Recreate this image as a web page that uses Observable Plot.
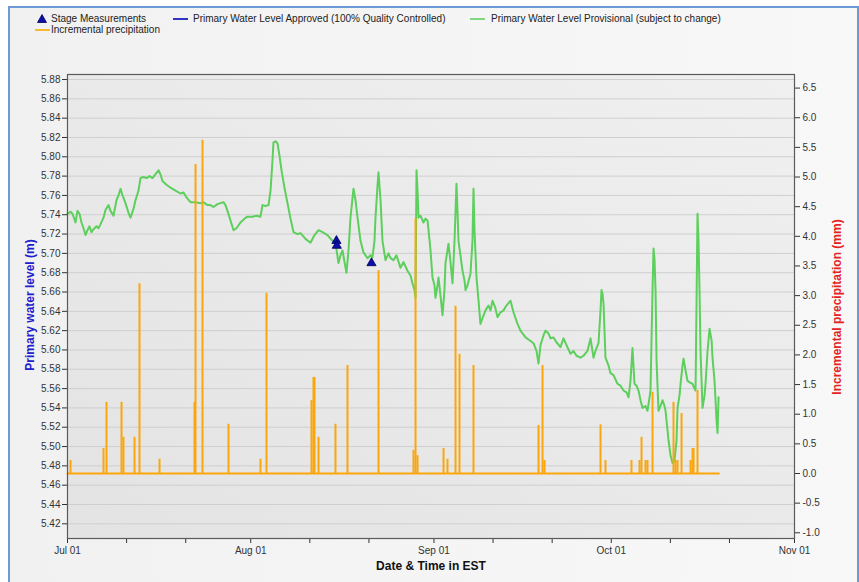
<!DOCTYPE html>
<html><head><meta charset="utf-8">
<script src="https://cdn.jsdelivr.net/npm/d3@7"></script>
<script src="https://cdn.jsdelivr.net/npm/@observablehq/plot@0.6"></script>
<style>
body{margin:0;background:#fff;font-family:"Liberation Sans",Arial,sans-serif;}
#wrap{position:relative;width:859px;height:582px;overflow:hidden;background:#fff;}
#frame{position:absolute;left:8px;top:6px;width:847px;height:600px;border:2px solid #6d9ad6;background:linear-gradient(90deg,#f1f1f1,#f8f8f8);}
.leg{position:absolute;font-size:10px;line-height:12px;color:#222;white-space:nowrap;}
.sw{position:absolute;height:2px;width:15px;}
#chart{position:absolute;left:0;top:0;}
.title{position:absolute;font-weight:bold;font-size:12px;white-space:nowrap;transform:translate(-50%,-50%);}
.rot{transform:translate(-50%,-50%) rotate(-90deg);}
</style></head>
<body>
<div id="wrap">
  <div id="frame"></div>
  <svg style="position:absolute;left:37px;top:14px" width="10" height="9"><path d="M5,0.5 L9.5,8.5 L0.5,8.5 Z" fill="#0d0da8" stroke="#00005a" stroke-width="0.8"/></svg>
  <div class="leg" style="left:51px;top:13px">Stage Measurements</div>
  <div class="sw" style="left:173px;top:18px;background:#3434c4"></div>
  <div class="leg" style="left:193px;top:13px">Primary Water Level Approved (100% Quality Controlled)</div>
  <div class="sw" style="left:470px;top:18px;background:#7fd87f"></div>
  <div class="leg" style="left:491px;top:13px">Primary Water Level Provisional (subject to change)</div>
  <div class="sw" style="left:35px;top:29px;background:#f5b82e"></div>
  <div class="leg" style="left:51px;top:24px">Incremental precipitation</div>
  <div id="chart"></div>
  <div class="title rot" style="left:30px;top:305px;color:#2020cc">Primary water level (m)</div>
  <div class="title rot" style="left:837px;top:307px;color:#e52222">Incremental precipitation (mm)</div>
  <div class="title" style="left:431px;top:566px;color:#111">Date &amp; Time in EST</div>
</div>
<script>
// Water level (provisional): [days after Jul 01 00:00, level in m]
const waterLevel = [[0.00,5.741],[0.51,5.743],[0.85,5.741],[1.35,5.732],[1.69,5.744],[2.03,5.741],[2.37,5.732],[2.71,5.726],[3.05,5.719],[3.38,5.724],[3.72,5.728],[4.06,5.722],[4.40,5.725],[4.91,5.728],[5.24,5.726],[5.58,5.730],[6.09,5.737],[6.43,5.745],[6.94,5.750],[7.28,5.744],[7.78,5.739],[8.29,5.755],[8.63,5.760],[8.97,5.767],[9.31,5.760],[9.81,5.752],[10.32,5.742],[10.66,5.737],[11.17,5.746],[11.50,5.755],[12.01,5.765],[12.35,5.778],[12.86,5.779],[13.37,5.778],[13.87,5.780],[14.38,5.778],[14.89,5.782],[15.40,5.786],[15.73,5.782],[16.07,5.775],[16.75,5.771],[17.43,5.768],[18.27,5.765],[19.12,5.762],[19.63,5.763],[20.13,5.758],[20.81,5.753],[21.66,5.753],[22.50,5.752],[23.01,5.753],[23.69,5.750],[24.19,5.750],[24.70,5.748],[25.38,5.751],[25.89,5.752],[26.39,5.753],[26.73,5.750],[27.07,5.744],[27.58,5.734],[28.09,5.724],[28.59,5.726],[29.27,5.732],[29.95,5.736],[30.45,5.738],[31.30,5.738],[31.98,5.739],[32.65,5.738],[32.99,5.750],[33.50,5.749],[34.01,5.750],[34.35,5.765],[34.68,5.796],[34.85,5.815],[35.19,5.816],[35.53,5.814],[35.87,5.801],[36.21,5.786],[36.71,5.768],[37.22,5.752],[37.73,5.736],[38.24,5.722],[38.91,5.720],[39.42,5.721],[40.27,5.715],[41.11,5.711],[41.79,5.719],[42.47,5.724],[43.14,5.722],[43.99,5.719],[44.67,5.714],[45.34,5.711],[45.85,5.690],[46.19,5.698],[46.53,5.703],[46.87,5.691],[47.20,5.680],[47.54,5.703],[47.88,5.737],[48.39,5.767],[48.73,5.755],[49.07,5.737],[49.57,5.713],[50.08,5.701],[50.76,5.695],[51.26,5.698],[51.60,5.696],[51.94,5.713],[52.11,5.737],[52.45,5.770],[52.62,5.784],[52.96,5.755],[53.29,5.713],[53.80,5.693],[54.31,5.700],[54.65,5.695],[55.16,5.693],[55.66,5.698],[56.34,5.685],[56.85,5.691],[57.52,5.682],[58.03,5.677],[58.37,5.669],[58.71,5.662],[58.88,5.654],[59.05,5.786],[59.22,5.765],[59.39,5.737],[59.72,5.739],[60.23,5.732],[60.57,5.736],[60.91,5.734],[61.08,5.724],[61.42,5.703],[61.75,5.675],[62.09,5.667],[62.26,5.654],[62.60,5.667],[62.77,5.675],[63.11,5.656],[63.45,5.636],[63.78,5.662],[63.95,5.690],[64.29,5.703],[64.46,5.710],[64.80,5.691],[65.14,5.669],[65.48,5.713],[65.81,5.772],[65.98,5.744],[66.15,5.713],[66.49,5.698],[66.83,5.682],[67.17,5.672],[67.34,5.662],[67.68,5.667],[68.18,5.679],[68.52,5.713],[68.69,5.767],[68.86,5.724],[69.20,5.675],[69.54,5.651],[69.87,5.627],[70.21,5.633],[70.72,5.641],[71.23,5.646],[71.57,5.641],[71.91,5.651],[72.41,5.643],[72.75,5.634],[73.26,5.639],[73.77,5.641],[74.27,5.646],[74.95,5.651],[75.46,5.639],[76.14,5.627],[76.64,5.620],[77.49,5.613],[78.17,5.610],[78.84,5.607],[79.35,5.599],[79.69,5.586],[80.03,5.605],[80.53,5.615],[80.87,5.620],[81.38,5.617],[81.72,5.612],[82.23,5.613],[82.73,5.608],[83.41,5.603],[83.92,5.612],[84.43,5.605],[85.10,5.596],[85.61,5.599],[86.12,5.594],[86.79,5.592],[87.30,5.594],[87.98,5.599],[88.49,5.612],[88.99,5.592],[89.33,5.599],[89.84,5.607],[90.18,5.641],[90.35,5.662],[90.52,5.658],[90.69,5.648],[91.02,5.592],[91.53,5.584],[91.87,5.576],[92.38,5.574],[93.05,5.565],[93.56,5.563],[94.07,5.558],[94.58,5.556],[94.92,5.551],[95.25,5.568],[95.59,5.602],[95.93,5.565],[96.27,5.563],[96.61,5.558],[96.95,5.548],[97.28,5.540],[97.79,5.542],[98.13,5.537],[98.64,5.558],[98.81,5.610],[98.98,5.662],[99.15,5.705],[99.32,5.693],[99.49,5.662],[99.66,5.589],[99.99,5.537],[100.33,5.542],[100.67,5.548],[101.01,5.542],[101.18,5.537],[101.52,5.517],[101.69,5.506],[102.03,5.491],[102.36,5.483],[102.70,5.486],[103.04,5.506],[103.21,5.540],[103.55,5.553],[103.72,5.565],[104.06,5.584],[104.23,5.591],[104.56,5.579],[104.90,5.568],[105.41,5.566],[105.75,5.565],[106.09,5.560],[106.26,5.558],[106.43,5.651],[106.59,5.741],[106.76,5.713],[106.93,5.662],[107.10,5.599],[107.44,5.540],[107.78,5.553],[107.95,5.565],[108.29,5.599],[108.63,5.622],[108.97,5.610],[109.13,5.592],[109.47,5.568],[109.64,5.548],[109.81,5.527],[109.98,5.514],[110.15,5.551]];

// Incremental precipitation spikes: [days after Jul 01, mm]
const precipitation = [[0.51,0.22],[6.09,0.42],[6.60,1.20],[9.14,1.20],[9.47,0.61],[11.34,0.61],[12.18,3.20],[15.57,0.24],[21.49,1.20],[21.66,5.21],[22.84,5.62],[27.24,0.83],[32.65,0.24],[33.67,3.04],[41.28,1.23],[41.62,1.62],[41.79,1.62],[42.47,0.61],[45.34,0.83],[47.37,1.82],[52.62,3.42],[58.54,0.39],[58.88,4.30],[59.22,0.30],[63.62,0.42],[64.29,0.24],[65.65,2.82],[66.32,2.01],[68.69,1.82],[79.69,0.81],[80.37,1.82],[80.71,0.22],[90.18,0.82],[91.02,0.22],[95.42,0.22],[96.78,0.22],[97.12,0.61],[97.79,0.22],[98.13,0.22],[98.98,1.37],[102.53,1.20],[102.87,0.22],[103.21,0.22],[103.89,1.01],[105.41,0.22],[105.75,0.42],[105.92,0.42],[106.59,1.40]];
// precipitation record start/end (days after Jul 01), value 0 between spikes
const precipRecord = [0, 110.2];

// Stage measurements: [days after Jul 01, level m]
const stageMeasurements = [[45.50,5.713],[45.56,5.708],[51.43,5.690]];

// Axis ticks
const levelTicks = [5.42,5.44,5.46,5.48,5.50,5.52,5.54,5.56,5.58,5.60,5.62,5.64,5.66,5.68,5.70,5.72,5.74,5.76,5.78,5.80,5.82,5.84,5.86,5.88];
const precipTicks = [-1.0,-0.5,0.0,0.5,1.0,1.5,2.0,2.5,3.0,3.5,4.0,4.5,5.0,5.5,6.0,6.5];
const xTicks = ["2023-07-01","2023-07-11","2023-07-21","2023-08-01","2023-08-11","2023-08-21","2023-09-01","2023-09-11","2023-09-21","2023-10-01","2023-10-11","2023-10-21","2023-11-01"];
const levelDomain = [5.4048, 5.8852];

const base = Date.UTC(2023, 6, 1);
const toDate = d => new Date(base + d * 864e5);
// secondary axis mapping: precipitation (mm) -> level-scale value
const P0 = 5.4721, PK = 0.06139;
const toLevel = p => P0 + PK * p;

const GREEN = "#5ccf5c", ORANGE = "#fba60a";
const xTickDates = xTicks.map(s => new Date(s + "T00:00Z"));

const chart = Plot.plot({
  width: 859, height: 582,
  marginLeft: 67, marginRight: 65, marginTop: 74, marginBottom: 44,
  style: {background: "transparent", fontFamily: "'Liberation Sans', Arial, sans-serif", fontSize: "10px", color: "#333", overflow: "visible"},
  x: {type: "utc", domain: [xTickDates[0], xTickDates[xTickDates.length - 1]]},
  y: {domain: levelDomain},
  marks: [
    Plot.frame({fill: "url(#plotbg)", stroke: null}),
    Plot.gridY(levelTicks, {stroke: "#cfcfcf", strokeOpacity: 1}),
    Plot.line(waterLevel, {x: d => toDate(d[0]), y: d => d[1], stroke: GREEN, strokeWidth: 2}),
    Plot.line(precipRecord, {x: d => toDate(d), y: () => toLevel(0), stroke: ORANGE, strokeWidth: 2}),
    Plot.ruleX(precipitation, {x: d => toDate(d[0]), y1: () => toLevel(0), y2: d => toLevel(d[1]), stroke: ORANGE, strokeWidth: 2}),
    Plot.dot(stageMeasurements, {x: d => toDate(d[0]), y: d => d[1], symbol: "triangle", r: 3.4, fill: "#0d0da8", stroke: "#00005a", strokeWidth: 0.8}),
    Plot.axisY(levelTicks, {anchor: "left", tickFormat: d => d.toFixed(2), tickSize: 5, tickPadding: 2, label: null}),
    Plot.axisY(precipTicks.map(toLevel), {anchor: "right", tickFormat: (v, i) => precipTicks[i].toFixed(1), tickSize: 5, tickPadding: 3, label: null}),
    Plot.axisX(xTickDates, {tickFormat: d => d.getUTCDate() === 1 ? d3.utcFormat("%b %d")(d) : "", tickSize: 5, tickPadding: 3, label: null}),
    Plot.frame({stroke: "#5a5a5a", strokeWidth: 1.2})
  ]
});
d3.select(chart).insert("defs", ":first-child").html(
  '<linearGradient id="plotbg" x1="0" y1="1" x2="1" y2="0"><stop offset="0" stop-color="#e3e3e3"/><stop offset="1" stop-color="#f0f0f0"/></linearGradient>');
document.getElementById("chart").append(chart);
</script>
</body></html>
